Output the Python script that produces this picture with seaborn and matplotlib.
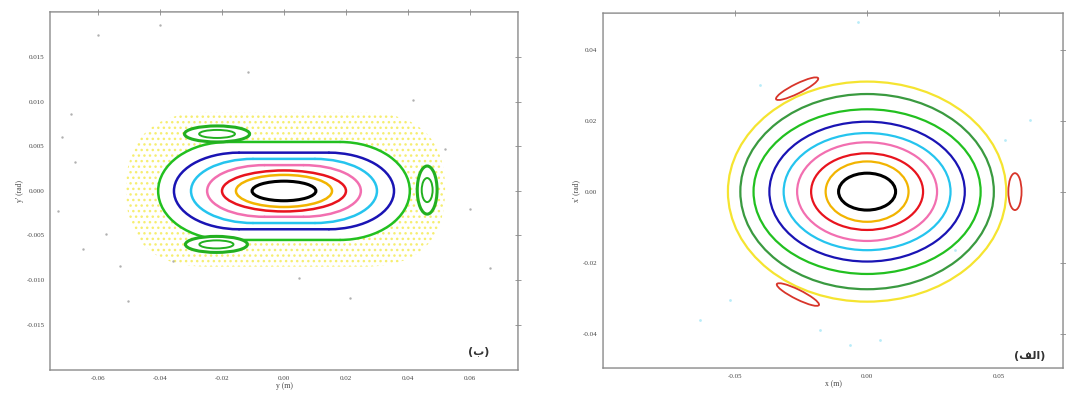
import numpy as np
import pandas as pd
import matplotlib
matplotlib.use("Agg")
import matplotlib.pyplot as plt
import seaborn as sns
from matplotlib.patches import Ellipse, FancyBboxPatch, Arc, Rectangle

# --- left panel: vertical plane (y, y') ---
y_orbit_colors = ["black", "#f2b400", "#e8141e", "#f26fb0", "#25c4ee", "#1a14b4", "#22c020"]
y_orbit_rx = [0.0103, 0.0155, 0.0200, 0.0248, 0.0300, 0.0355, 0.0406]
y_orbit_ry = [0.0011, 0.0018, 0.0023, 0.0029, 0.0036, 0.0043, 0.0055]
# horizontal extent of the rounded ends (None = plain ellipse)
y_orbit_endx = [None, None, None, 0.0185, 0.0200, 0.0210, 0.0225]

y_island_x = [-0.0216, -0.0218, 0.0462]
y_island_y = [0.0064, -0.0060, 0.0001]
y_island_rx = [0.0105, 0.0100, 0.0032]
y_island_ry = [0.0009, 0.0009, 0.0027]

y_stray_x = [-0.060, -0.0687, -0.0716, -0.0674, -0.0729, -0.0574, -0.0648, -0.0503,
             -0.0529, -0.0358, -0.0116, 0.0416, 0.052, 0.0665, 0.060, 0.0213, 0.005, -0.040]
y_stray_y = [0.0175, 0.0086, 0.0061, 0.0032, -0.0023, -0.0048, -0.0065, -0.0123,
             -0.0084, -0.0079, 0.0133, 0.0102, 0.0047, -0.0087, -0.002, -0.012, -0.0098, 0.0186]

# chaotic (yellow) band extent
y_cloud = [-0.051, 0.052, -0.0085, 0.0088]

# --- right panel: horizontal plane (x, x') ---
x_orbit_colors = ["black", "#f2b400", "#e8141e", "#f26fb0", "#25c4ee", "#1a14b4",
                  "#22c020", "#3a9a40", "#f5e430"]
x_orbit_rx = [0.0108, 0.0157, 0.0212, 0.0265, 0.0316, 0.0370, 0.0430, 0.0480, 0.0527]
x_orbit_ry = [0.0052, 0.0085, 0.0108, 0.0139, 0.0165, 0.0197, 0.0232, 0.0275, 0.0310]

x_island_x = [-0.0265, -0.0262, 0.0560]
x_island_y = [0.0290, -0.0290, 0.0000]
x_island_w = [0.0170, 0.0170, 0.0050]
x_island_h = [0.0028, 0.0028, 0.0104]
x_island_ang = [20, -20, 0]

x_stray_x = [-0.0034, -0.0178, -0.0064, 0.0333, 0.0523, -0.0405, -0.0633, 0.0617, 0.0049, -0.052]
x_stray_y = [0.0477, -0.039, -0.0432, -0.0165, 0.0145, 0.030, -0.0362, 0.0201, -0.0418, -0.0306]

sns.set_style("white")
plt.rcParams["font.family"] = ["Liberation Serif", "DejaVu Sans"]
plt.rcParams["hatch.linewidth"] = 1.0
plt.rcParams["path.snap"] = False

fig = plt.figure(figsize=(10.66, 3.97), dpi=100)
ax_y = fig.add_axes([0.0469, 0.068, 0.439, 0.902])
ax_x = fig.add_axes([0.5657, 0.073, 0.4315, 0.894])


def style_axes(ax):
    for s in ax.spines.values():
        s.set_color("#8a8a8a")
        s.set_linewidth(1.0)
    ax.tick_params(direction="inout", length=4, width=0.6, color="#8a8a8a",
                   labelsize=5, labelcolor="#444444", top=True, right=True,
                   pad=2)


def draw_orbit(ax, rx, ry, endx, color, lw, z=3):
    # plain ellipse, or a stadium with half-elliptic ends
    if not endx:
        ax.add_patch(Ellipse((0, 0), 2 * rx, 2 * ry, facecolor="none",
                             edgecolor=color, linewidth=lw, zorder=z))
        return
    c = rx - endx
    for cx, t1, t2 in ((-c, 90, 270), (c, -90, 90)):
        ax.add_patch(Arc((cx, 0), 2 * endx, 2 * ry, theta1=t1, theta2=t2,
                         edgecolor=color, linewidth=lw, zorder=z,
                         capstyle="round"))
    seg = ax.hlines([ry, -ry], -c, c, colors=color, linewidth=lw, zorder=z)
    seg.set_capstyle("round")
    seg.set_snap(False)


def fill_orbit(ax, rx, ry, endx, z=2):
    c = rx - endx
    for cx in (-c, c):
        ax.add_patch(Ellipse((cx, 0), 2 * endx, 2 * ry, facecolor="white",
                             edgecolor="none", zorder=z))
    ax.add_patch(Rectangle((-c, -ry), 2 * c, 2 * ry, facecolor="white",
                           edgecolor="none", zorder=z))


# left panel
ax_y.set_xlim(-0.0755, 0.0755)
ax_y.set_ylim(-0.0201, 0.0201)

# yellow chaotic cloud, hollowed by the last regular orbit
cloud_ry = (y_cloud[3] - y_cloud[2]) / 2
ax_y.add_patch(FancyBboxPatch((y_cloud[0], y_cloud[2]), y_cloud[1] - y_cloud[0],
                              y_cloud[3] - y_cloud[2],
                              boxstyle="round,pad=0,rounding_size=0.026",
                              mutation_aspect=cloud_ry / 0.026, facecolor="none",
                              edgecolor="#f6ee70", linewidth=0, hatch="...",
                              zorder=1))
fill_orbit(ax_y, y_orbit_rx[-1], y_orbit_ry[-1], y_orbit_endx[-1])

for c, rx, ry, endx in zip(y_orbit_colors, y_orbit_rx, y_orbit_ry, y_orbit_endx):
    lw = 2.2 if c == "black" else 1.8
    draw_orbit(ax_y, rx, ry, endx, c, lw)

for cx, cy, rx, ry in zip(y_island_x, y_island_y, y_island_rx, y_island_ry):
    ax_y.add_patch(Ellipse((cx, cy), 2 * rx, 2 * ry, facecolor="white",
                           edgecolor="#22b020", linewidth=2.2, zorder=3))
    ax_y.add_patch(Ellipse((cx, cy), 1.1 * rx, 1.0 * ry, facecolor="none",
                           edgecolor="#22b020", linewidth=1.4, zorder=3))

sns.scatterplot(x=y_stray_x, y=y_stray_y, ax=ax_y, color="#b0b0b0", s=3,
                linewidth=0, zorder=2)

ax_y.set_xticks([-0.06, -0.04, -0.02, 0.0, 0.02, 0.04, 0.06])
ax_y.set_xticklabels(["-0.06", "-0.04", "-0.02", "0.00", "0.02", "0.04", "0.06"])
ax_y.set_yticks([-0.015, -0.010, -0.005, 0.0, 0.005, 0.010, 0.015])
ax_y.set_yticklabels(["-0.015", "-0.010", "-0.005", "0.000", "0.005", "0.010", "0.015"])
ax_y.set_xlabel("y (m)", fontsize=5.5, labelpad=1, color="#444444")
ax_y.set_ylabel("y' (rad)", fontsize=5.5, labelpad=2, color="#444444")
style_axes(ax_y)
ax_y.text(0.915, 0.05, "(\u0628)", transform=ax_y.transAxes, fontsize=8,
          family="DejaVu Sans", fontweight="bold", color="#333333",
          ha="center", va="center")

# right panel
ax_x.set_xlim(-0.100, 0.0742)
ax_x.set_ylim(-0.0497, 0.0503)

for c, rx, ry in zip(x_orbit_colors, x_orbit_rx, x_orbit_ry):
    lw = 2.2 if c == "black" else 1.6
    draw_orbit(ax_x, rx, ry, None, c, lw)

for cx, cy, w, h, a in zip(x_island_x, x_island_y, x_island_w, x_island_h, x_island_ang):
    ax_x.add_patch(Ellipse((cx, cy), w, h, angle=a, facecolor="none",
                           edgecolor="#d8352a", linewidth=1.3, zorder=3))

sns.scatterplot(x=x_stray_x, y=x_stray_y, ax=ax_x, color="#b8ecf8", s=4,
                linewidth=0, zorder=2)

ax_x.set_xticks([-0.05, 0.0, 0.05])
ax_x.set_xticklabels(["-0.05", "0.00", "0.05"])
ax_x.set_yticks([-0.04, -0.02, 0.0, 0.02, 0.04])
ax_x.set_yticklabels(["-0.04", "-0.02", "0.00", "0.02", "0.04"])
ax_x.set_xlabel("x (m)", fontsize=5.5, labelpad=1, color="#444444")
ax_x.set_ylabel("x' (rad)", fontsize=5.5, labelpad=2, color="#444444")
style_axes(ax_x)
ax_x.text(0.928, 0.035, "(\uFED2\uFEDF\uFE8D)", transform=ax_x.transAxes,
          fontsize=8, family="DejaVu Sans", fontweight="bold", color="#333333",
          ha="center", va="center")

fig.savefig("out.png", dpi=100)
